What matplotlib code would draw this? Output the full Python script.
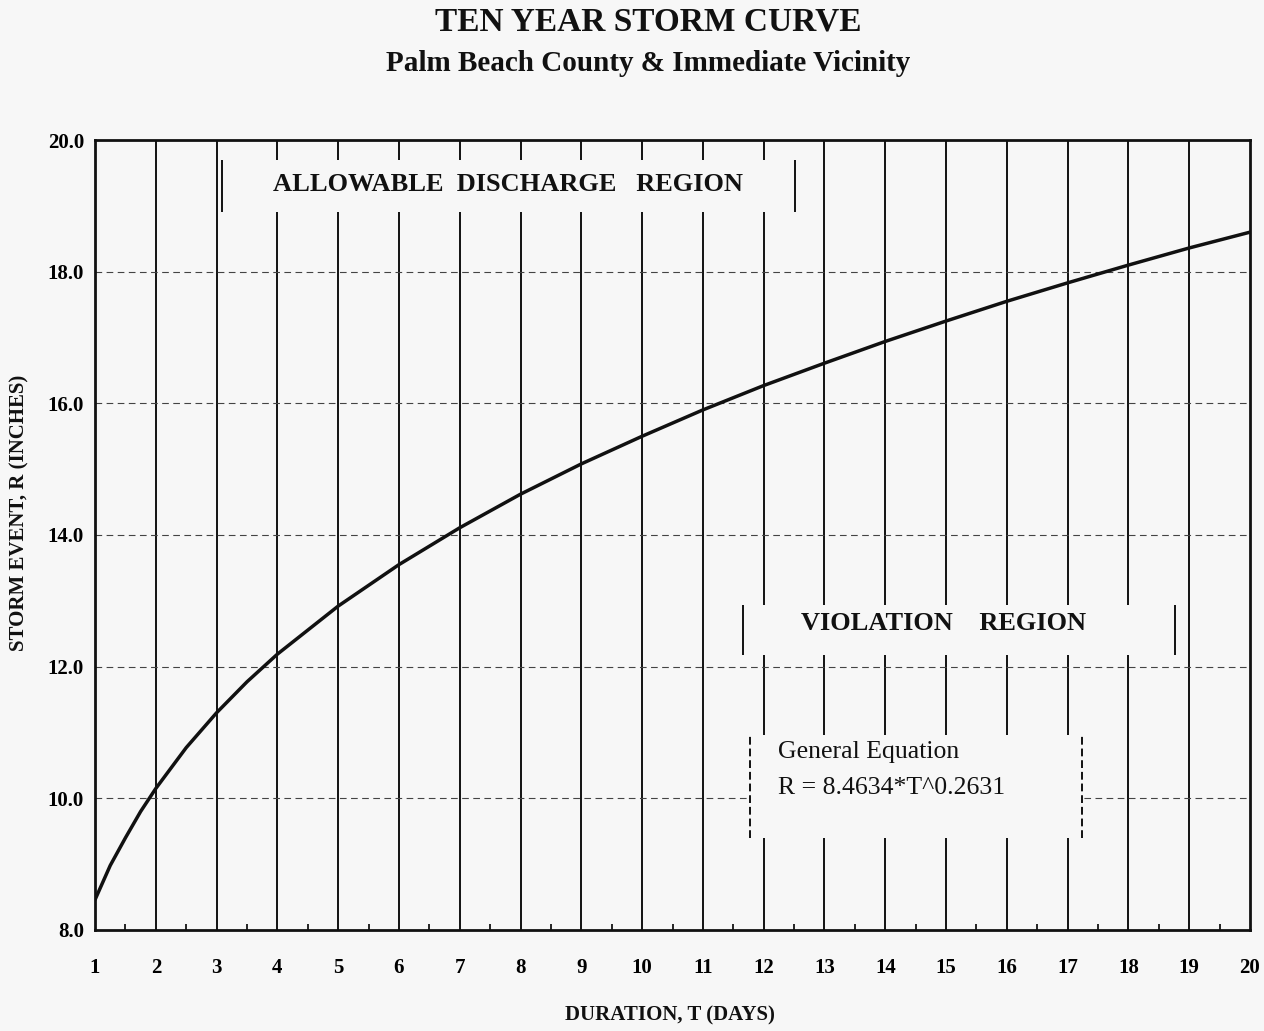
import numpy as np
import matplotlib
matplotlib.use("Agg")
import matplotlib.pyplot as plt
from matplotlib.patches import Rectangle

plt.rcParams["font.family"] = ["Liberation Serif", "DejaVu Serif"]

BG = "#f7f7f7"
INK = "#111111"

# values (duration in days, storm event in inches)
days = [1, 1.25, 1.5, 1.75, 2, 2.5, 3, 3.5, 4, 5, 6, 7, 8, 9, 10,
        11, 12, 13, 14, 15, 16, 17, 18, 19, 20]
rain = [8.46, 8.98, 9.40, 9.80, 10.15, 10.77, 11.30, 11.77, 12.19, 12.92, 13.55,
        14.11, 14.62, 15.08, 15.50, 15.90, 16.27, 16.61, 16.94, 17.25, 17.55,
        17.83, 18.10, 18.36, 18.60]

x_ticks = list(range(1, 21))
y_ticks = [8.0, 10.0, 12.0, 14.0, 16.0, 18.0, 20.0]
y_labels = ["8.0", "10.0", "12.0", "14.0", "16.0", "18.0", "20.0"]

fig = plt.figure(figsize=(12.64, 10.31), dpi=100, facecolor=BG)
ax = fig.add_axes([0.0752, 0.0980, 0.9137, 0.7662])
ax.set_facecolor(BG)

# grid: solid verticals, thin dashed horizontals
for t in x_ticks[1:-1]:
    ax.axvline(t, color=INK, lw=1.4, zorder=1)
for v in y_ticks[1:-1]:
    ax.axhline(v, color="#444444", lw=0.8, ls=(0, (6, 4)), zorder=1)

ax.plot(days, rain, color=INK, lw=2.5, zorder=4, solid_capstyle="round",
        solid_joinstyle="round")


# label boxes (background colour, covering the grid)
def label_box(x0, x1, y0, y1, left_ls="-", right_ls="-"):
    ax.add_patch(Rectangle((x0, y0), x1 - x0, y1 - y0, facecolor=BG,
                           edgecolor="none", zorder=2))
    ax.vlines(x0, y0, y1, color=INK, lw=1.4, ls=left_ls, zorder=3)
    ax.vlines(x1, y0, y1, color=INK, lw=1.4, ls=right_ls, zorder=3)


label_box(3.09, 12.52, 18.91, 19.70)
ax.text(7.80, 19.33, "ALLOWABLE  DISCHARGE   REGION", ha="center", va="center",
        fontsize=19, fontweight="bold", color=INK, zorder=5)

label_box(11.66, 18.77, 12.18, 12.94)
ax.text(14.96, 12.66, "VIOLATION    REGION", ha="center", va="center",
        fontsize=19, fontweight="bold", color=INK, zorder=5)

label_box(11.78, 17.24, 9.40, 10.96, left_ls=(0, (4, 2)), right_ls=(0, (4, 2)))
ax.text(12.24, 10.71, "General Equation", ha="left", va="center",
        fontsize=18.5, color=INK, zorder=5)
ax.text(12.24, 10.15, "R = 8.4634*T^0.2631", ha="left", va="center",
        fontsize=18.5, color=INK, zorder=5)

ax.set_xlim(1, 20)
ax.set_ylim(8, 20)
ax.set_xticks(x_ticks)
ax.set_xticklabels([str(t) for t in x_ticks], fontsize=15, fontweight="bold")
ax.set_xticks(np.arange(1.5, 20, 1), minor=True)
ax.set_yticks(y_ticks)
ax.set_yticklabels(y_labels, fontsize=15, fontweight="bold")
ax.tick_params(axis="x", which="major", length=0, pad=20)
ax.tick_params(axis="x", which="minor", direction="in", length=4, width=1.2)
ax.tick_params(axis="y", length=0, pad=8)
for s in ax.spines.values():
    s.set_color(INK)
    s.set_linewidth(2.0)

fig.text(0.530, 0.0155, "DURATION, T (DAYS)", ha="center", va="center",
         fontsize=15, fontweight="bold", color=INK)
fig.text(0.0158, 0.503, "STORM EVENT, R (INCHES)", ha="center", va="center",
         rotation=90, fontsize=15, fontweight="bold", color=INK)

fig.text(0.513, 0.979, "TEN YEAR STORM CURVE", ha="center", va="center",
         fontsize=24, fontweight="bold", color=INK)
fig.text(0.513, 0.938, "Palm Beach County & Immediate Vicinity", ha="center", va="center",
         fontsize=21, fontweight="bold", color=INK)

fig.savefig("out.png", dpi=100, facecolor=BG)
